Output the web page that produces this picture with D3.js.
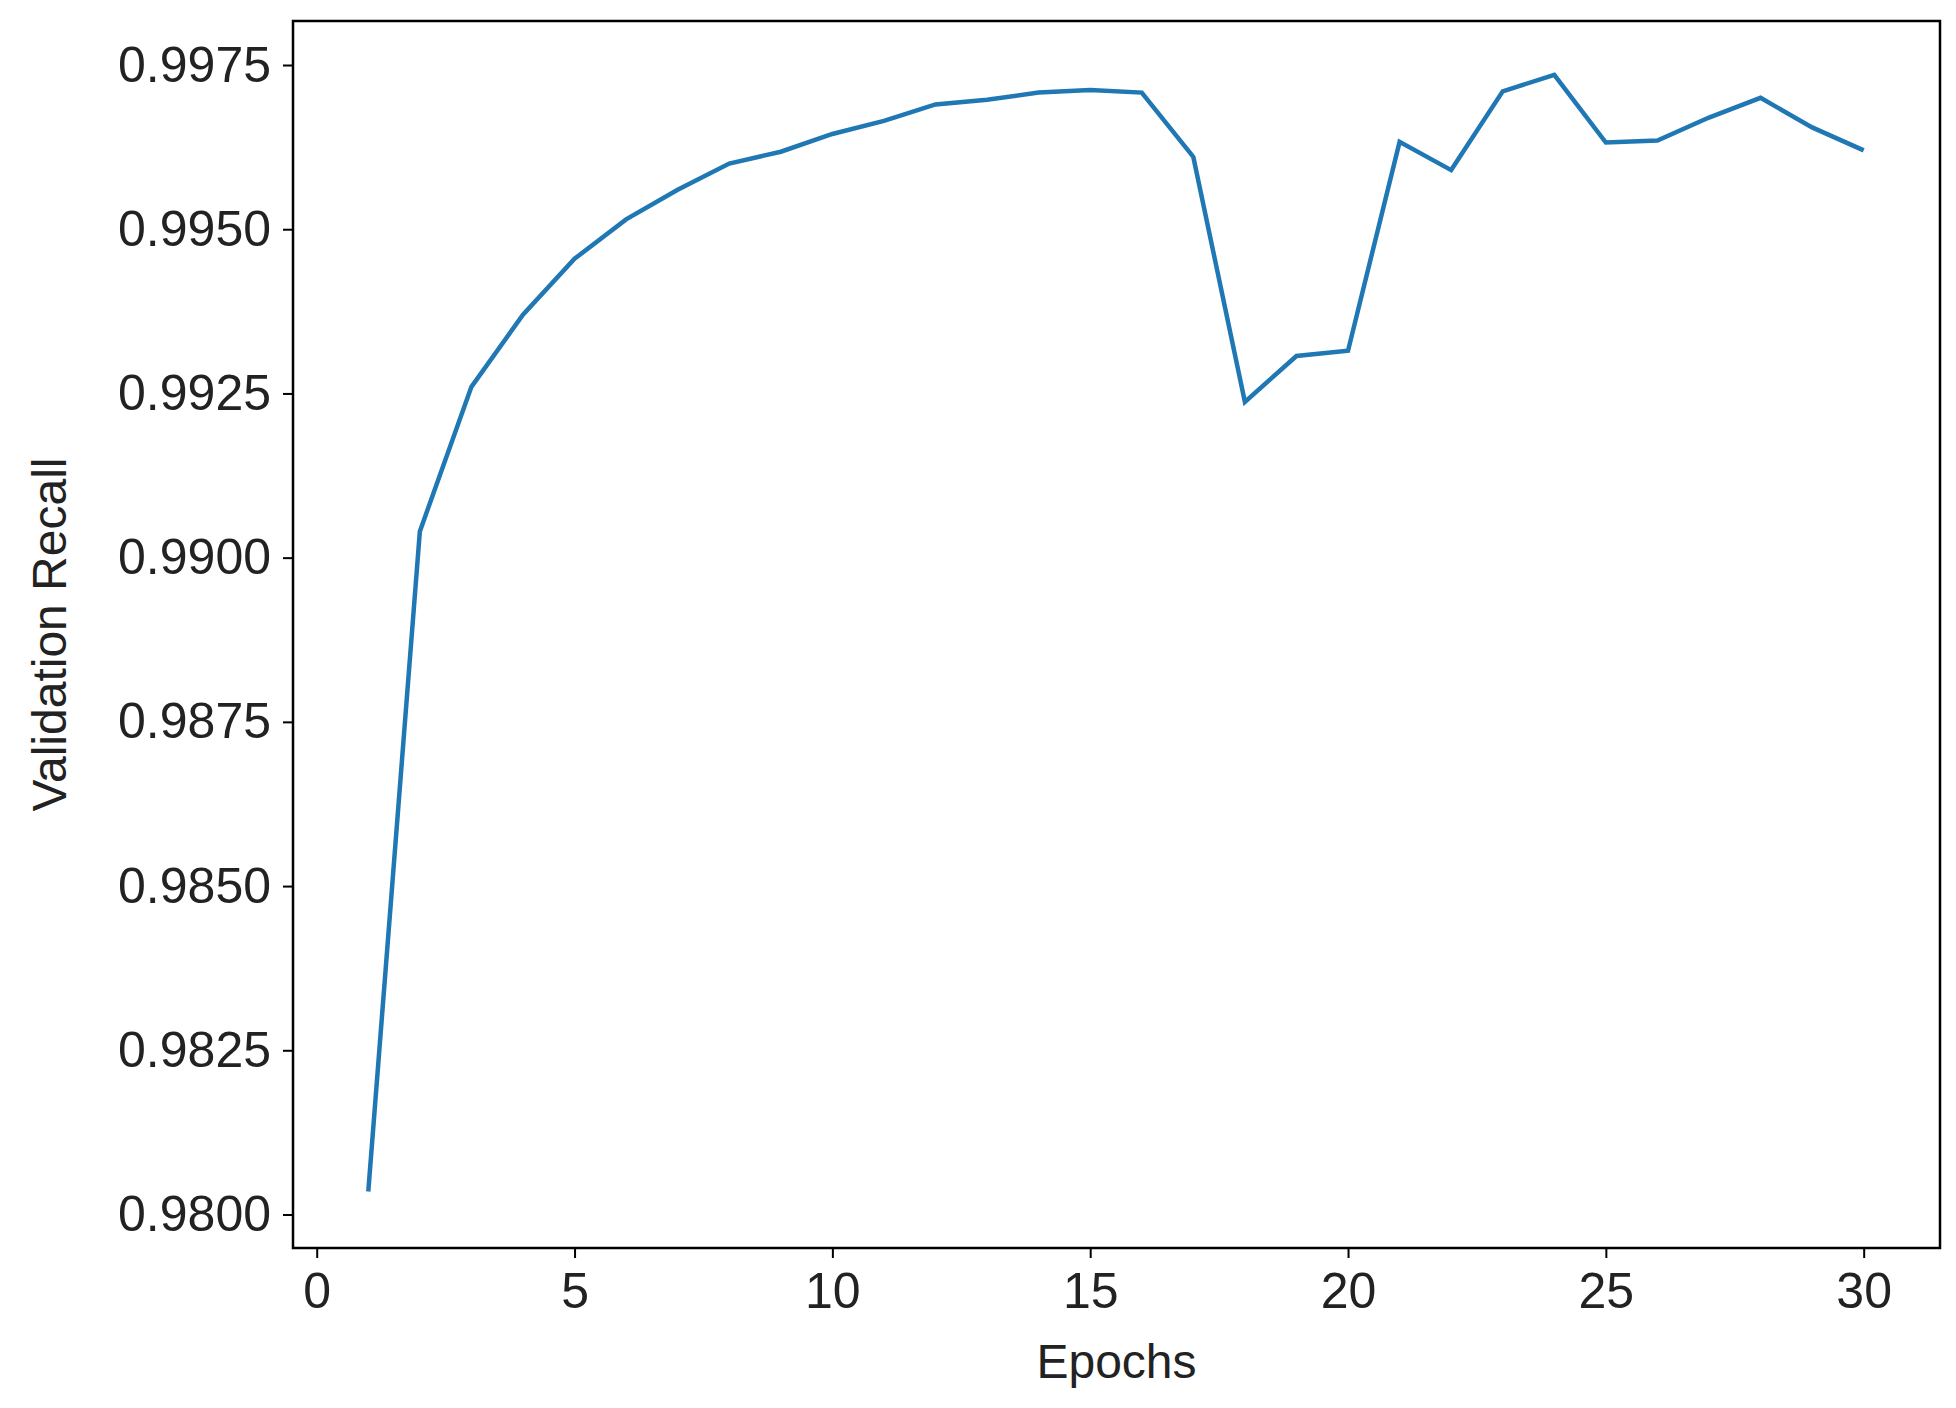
<!DOCTYPE html>
<html><head><meta charset="utf-8">
<script src="https://cdn.jsdelivr.net/npm/d3@7"></script>
<style>body{margin:0;background:#fff}svg{display:block}</style>
</head><body>
<script>
const epochs = d3.range(1, 31);
const recall = [0.98035,0.9904,0.9926,0.9937,0.99455,0.99515,0.9956,0.9960,0.99618,0.99645,
0.99665,0.9969,0.99697,0.99708,0.99712,0.99708,0.9961,0.99237,0.99307,0.99315,
0.99633,0.9959,0.9971,0.99735,0.99632,0.99635,0.9967,0.997,0.99655,0.9962];
const xTicks = [0,5,10,15,20,25,30];
const yTicks = [0.98,0.9825,0.985,0.9875,0.99,0.9925,0.995,0.9975];

const W=1956,H=1408, L=293,R=1940,T=21,B=1248;
const svg=d3.select("body").append("svg").attr("width",W).attr("height",H);
const x=d3.scaleLinear().domain([-0.46,31.48]).range([L,R]);
const y=d3.scaleLinear().domain([0.97949,0.99817]).range([B,T]);
const font="Liberation Sans, Arial, sans-serif";
const gx=svg.append("g").attr("transform",`translate(0,${B})`)
 .call(d3.axisBottom(x).tickValues(xTicks).tickSize(10).tickPadding(14).tickSizeOuter(0));
const gy=svg.append("g").attr("transform",`translate(${L},0)`)
 .call(d3.axisLeft(y).tickValues(yTicks).tickFormat(d3.format(".4f")).tickSize(10).tickPadding(12).tickSizeOuter(0));
[gx,gy].forEach(g=>{g.select(".domain").remove();g.selectAll("line").attr("stroke","#000").attr("stroke-width",2);
 g.selectAll("text").attr("font-family",font).attr("font-size",50).attr("fill","#222");});
svg.append("rect").attr("x",L).attr("y",T).attr("width",R-L).attr("height",B-T)
 .attr("fill","none").attr("stroke","#000").attr("stroke-width",2.5);
svg.append("path").datum(epochs.map((e,i)=>[e,recall[i]]))
 .attr("d",d3.line().x(d=>x(d[0])).y(d=>y(d[1])))
 .attr("fill","none").attr("stroke","#1f77b4").attr("stroke-width",4.5);
svg.append("text").attr("x",(L+R)/2).attr("y",1378).attr("text-anchor","middle")
 .attr("font-family",font).attr("font-size",48).attr("fill","#222").text("Epochs");
svg.append("text").attr("transform",`translate(66,${(T+B)/2}) rotate(-90)`).attr("text-anchor","middle")
 .attr("font-family",font).attr("font-size",48).attr("fill","#222").text("Validation Recall");
</script>
</body></html>
